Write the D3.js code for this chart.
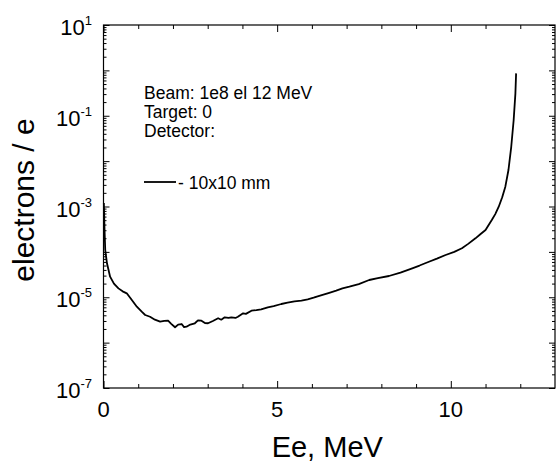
<!DOCTYPE html>
<html><head><meta charset="utf-8">
<script src="https://cdn.jsdelivr.net/npm/d3@7"></script>
<style>
html,body{margin:0;padding:0;background:#fff;}
svg{display:block;font-family:"Liberation Sans",Arial,sans-serif;}
</style></head>
<body><svg id="c" width="556" height="465"></svg>
<script>
const energy = [0.01,0.03,0.05,0.1,0.19,0.3,0.43,0.55,0.67,0.8,0.96,1.1,1.2,1.34,1.48,1.63,1.75,1.86,1.95,2.06,2.15,2.25,2.32,2.39,2.5,2.63,2.72,2.82,2.92,3.01,3.15,3.3,3.39,3.49,3.6,3.68,3.8,3.87,4.02,4.1,4.26,4.4,4.54,4.73,4.9,5.12,5.3,5.5,5.7,5.88,6.05,6.26,6.5,6.7,6.88,7.08,7.35,7.65,7.9,8.22,8.55,8.89,9.1,9.37,9.6,9.85,10.1,10.32,10.5,10.71,10.85,11.0,11.18,11.28,11.38,11.48,11.57,11.66,11.74,11.81,11.86,11.88];
const electrons = [1.2e-3,3.0e-4,1.1e-4,5.6e-5,2.84e-5,2.0e-5,1.57e-5,1.35e-5,1.22e-5,9.0e-6,6.19e-6,4.8e-6,4.06e-6,3.72e-6,3.2e-6,2.89e-6,3.0e-6,3.04e-6,2.6e-6,2.18e-6,2.5e-6,2.57e-6,2.2e-6,2.24e-6,2.5e-6,2.67e-6,3.1e-6,3.04e-6,2.7e-6,2.67e-6,3.0e-6,3.44e-6,3.2e-6,3.61e-6,3.5e-6,3.61e-6,3.5e-6,3.72e-6,4.43e-6,4.3e-6,5.06e-6,5.2e-6,5.42e-6,6.0e-6,6.4e-6,7.1e-6,7.6e-6,8.15e-6,8.4e-6,9.02e-6,9.8e-6,1.10e-5,1.25e-5,1.4e-5,1.57e-5,1.71e-5,1.95e-5,2.40e-5,2.65e-5,2.94e-5,3.5e-5,4.35e-5,5.0e-5,6.07e-5,7.1e-5,8.53e-5,1.0e-4,1.20e-4,1.5e-4,1.99e-4,2.45e-4,3.03e-4,5.04e-4,6.8e-4,9.89e-4,1.6e-3,2.73e-3,6.37e-3,2.07e-2,8.05e-2,0.312,0.86];
const xTicks = [0,5,10];
const xMinor = [1,2,3,4,6,7,8,9,11,12];
const yLabelExp = [1,-1,-3,-5,-7];
const legendLines = ["Beam: 1e8 el 12 MeV","Target: 0","Detector:"];
const seriesName = "- 10x10 mm";
const xTitle = "Ee, MeV";
const yTitle = "electrons / e";

const L=103.5, R=555, T=25, B=388;
const svg = d3.select("#c");
const x = d3.scaleLinear().domain([0,13]).range([L,R]);
const y = d3.scaleLog().domain([1e-7,10]).range([B,T]);

const decades = d3.range(-7,2).map(e=>Math.pow(10,e));
const yMinor = [];
for (let e=-7;e<1;e++) for (let m=2;m<=9;m++) yMinor.push(m*Math.pow(10,e));

function styleAxis(g){ g.select(".domain").remove(); g.selectAll("line").attr("stroke","#000").attr("stroke-width",1); g.selectAll("text").remove(); }

svg.append("g").attr("transform",`translate(0,${B})`).call(d3.axisBottom(x).tickValues(xTicks).tickSize(-7)).call(styleAxis);
svg.append("g").attr("transform",`translate(0,${B})`).call(d3.axisBottom(x).tickValues(xMinor).tickSize(-4)).call(styleAxis);
svg.append("g").attr("transform",`translate(0,${T})`).call(d3.axisTop(x).tickValues(xTicks).tickSize(-7)).call(styleAxis);
svg.append("g").attr("transform",`translate(0,${T})`).call(d3.axisTop(x).tickValues(xMinor).tickSize(-4)).call(styleAxis);
svg.append("g").attr("transform",`translate(${L},0)`).call(d3.axisLeft(y).tickValues(decades).tickSize(-6)).call(styleAxis);
svg.append("g").attr("transform",`translate(${L},0)`).call(d3.axisLeft(y).tickValues(yMinor).tickSize(-3)).call(styleAxis);
svg.append("g").attr("transform",`translate(${R},0)`).call(d3.axisRight(y).tickValues(decades).tickSize(-6)).call(styleAxis);
svg.append("g").attr("transform",`translate(${R},0)`).call(d3.axisRight(y).tickValues(yMinor).tickSize(-3)).call(styleAxis);

svg.append("rect").attr("x",L).attr("y",T).attr("width",R-L).attr("height",B-T)
  .attr("fill","none").attr("stroke","#000").attr("stroke-width",1.2);

// x tick labels
svg.append("g").selectAll("text").data(xTicks).join("text")
  .attr("x",d=>x(d)).attr("y",B+29).attr("text-anchor","middle")
  .attr("font-size",22).attr("fill","#000").text(d=>d);

// y tick labels with superscript
const yl = svg.append("g").selectAll("text").data(yLabelExp).join("text")
  .attr("x",92).attr("y",d=>y(Math.pow(10,d))+10).attr("text-anchor","end")
  .attr("font-size",22).attr("fill","#000");
yl.append("tspan").text("10");
yl.append("tspan").attr("font-size",13).attr("dy",-10).text(d=>d<0?"-"+(-d):String(d));

// titles
svg.append("text").attr("x",(L+R)/2-2).attr("y",457).attr("text-anchor","middle")
  .attr("font-size",29).attr("fill","#000").text(xTitle);
svg.append("text").attr("transform","translate(34,200) rotate(-90)").attr("text-anchor","middle")
  .attr("font-size",30).attr("fill","#000").text(yTitle);

// annotation
svg.append("g").selectAll("text").data(legendLines).join("text")
  .attr("x",144).attr("y",(d,i)=>99+i*19).attr("font-size",17.5).attr("fill","#000").text(d=>d);
svg.append("line").attr("x1",144).attr("x2",176).attr("y1",182).attr("y2",182).attr("stroke","#000").attr("stroke-width",1.8);
svg.append("text").attr("x",178).attr("y",189).attr("font-size",17.5).attr("fill","#000").text(seriesName);

// curve
const data = energy.map((e,i)=>[e,electrons[i]]);
svg.append("path").datum(data)
  .attr("d",d3.line().x(d=>x(d[0])).y(d=>y(d[1])))
  .attr("fill","none").attr("stroke","#000").attr("stroke-width",1.8).attr("stroke-linejoin","round");
</script></body></html>
